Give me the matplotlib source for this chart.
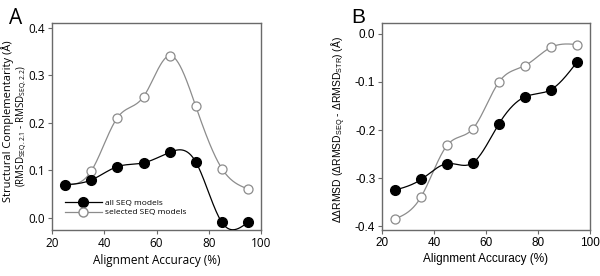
import matplotlib.pyplot as plt
import numpy as np

accuracy = np.array([25, 35, 45, 55, 65, 75, 85, 95], dtype=float)

# panel A
comp_all = np.array([0.070, 0.080, 0.108, 0.116, 0.138, 0.118, -0.009, -0.009])
comp_sel = np.array([0.070, 0.099, 0.211, 0.255, 0.341, 0.235, 0.104, 0.061])

# panel B
ddrmsd_all = np.array([-0.325, -0.303, -0.270, -0.268, -0.187, -0.131, -0.116, -0.059])
ddrmsd_sel = np.array([-0.385, -0.339, -0.232, -0.197, -0.100, -0.066, -0.028, -0.022])

legend_labels = ["all SEQ models", "selected SEQ models"]


def spline(x, y, n=300):
    # natural cubic spline, drawn through the points like the original figure
    k = len(x)
    h = np.diff(x)
    A = np.zeros((k, k))
    r = np.zeros(k)
    A[0, 0] = A[-1, -1] = 1
    for i in range(1, k - 1):
        A[i, i - 1] = h[i - 1]
        A[i, i] = 2 * (h[i - 1] + h[i])
        A[i, i + 1] = h[i]
        r[i] = 3 * ((y[i + 1] - y[i]) / h[i] - (y[i] - y[i - 1]) / h[i - 1])
    c = np.linalg.solve(A, r)
    xs = np.linspace(x[0], x[-1], n)
    idx = np.clip(np.searchsorted(x, xs) - 1, 0, k - 2)
    dx = xs - x[idx]
    hi = h[idx]
    b = (y[idx + 1] - y[idx]) / hi - hi * (2 * c[idx] + c[idx + 1]) / 3
    d = (c[idx + 1] - c[idx]) / (3 * hi)
    ys = y[idx] + b * dx + c[idx] * dx ** 2 + d * dx ** 3
    return xs, ys


gray = "#8c8c8c"
frame = "#6a6a6a"

fig = plt.figure(figsize=(6, 2.76), dpi=100)
axA = fig.add_axes([0.087, 0.167, 0.348, 0.75])
axB = fig.add_axes([0.637, 0.167, 0.346, 0.75])


def draw(ax, fam, y_all, y_sel):
    xs, ys = spline(accuracy, y_sel)
    ax.plot(xs, ys, color=gray, lw=0.9, zorder=2)
    ax.plot(accuracy, y_sel, 'o', ms=6.5, mfc='white', mec=gray, mew=0.9, zorder=3)
    xs, ys = spline(accuracy, y_all)
    ax.plot(xs, ys, color='black', lw=0.9, zorder=4)
    ax.plot(accuracy, y_all, 'o', ms=7, color='black', zorder=5)
    ax.set_xlim(20, 100)
    ax.set_xticks([20, 40, 60, 80, 100])
    for s in ax.spines.values():
        s.set_color(frame)
        s.set_linewidth(1.0)
    ax.tick_params(direction='out', length=3, width=0.8, color=frame,
                   labelsize=8.5, pad=2, top=False, right=False)
    for t in ax.get_xticklabels() + ax.get_yticklabels():
        t.set_family(fam)
    ax.set_xlabel("Alignment Accuracy (%)", family=fam, fontsize=8.5, labelpad=3)


draw(axA, "Open Sans", comp_all, comp_sel)
axA.set_ylim(-0.025, 0.41)
axA.set_yticks([0.0, 0.1, 0.2, 0.3, 0.4])
axA.set_yticklabels(["0.0", "0.1", "0.2", "0.3", "0.4"], family="Open Sans")
fig.text(0.013, 0.56, "Structural Complementarity (Å)", rotation=90,
         ha='center', va='center', fontsize=8, family="Open Sans")
fig.text(0.037, 0.545,
         r"(RMSD$_{\mathregular{SEQ.2.1}}$ - RMSD$_{\mathregular{SEQ.2.2}}$)",
         rotation=90, ha='center', va='center', fontsize=7, family="Open Sans")

# legend drawn by the axes
hA = axA.plot([], [], 'o-', color='black', ms=7, lw=0.9)[0]
hS = axA.plot([], [], 'o-', color=gray, mfc='white', mec=gray, ms=6.5, lw=0.9)[0]
leg = axA.legend([hA, hS], legend_labels, loc='lower left', frameon=False,
                 prop={'family': 'Open Sans', 'size': 6}, numpoints=1,
                 handlelength=4.5, handletextpad=0.3, labelspacing=0.25,
                 borderaxespad=0, borderpad=0, bbox_to_anchor=(0.06, 0.065))

draw(axB, "Liberation Sans", ddrmsd_all, ddrmsd_sel)
axB.set_ylim(-0.408, 0.023)
axB.set_yticks([-0.4, -0.3, -0.2, -0.1, 0.0])
axB.set_yticklabels(["-0.4", "-0.3", "-0.2", "-0.1", "0.0"], family="Liberation Sans")
fig.text(0.565, 0.53,
         r"ΔΔRMSD (ΔRMSD$_{\mathregular{SEQ}}$ - ΔRMSD$_{\mathregular{STR}}$) (Å)",
         rotation=90, ha='center', va='center', fontsize=7.5, family="Liberation Sans")

fig.text(0.015, 0.97, "A", fontsize=15, family="Open Sans", va='top')
fig.text(0.585, 0.97, "B", fontsize=15, family="Liberation Sans", va='top')

plt.savefig("out.png", dpi=100)
